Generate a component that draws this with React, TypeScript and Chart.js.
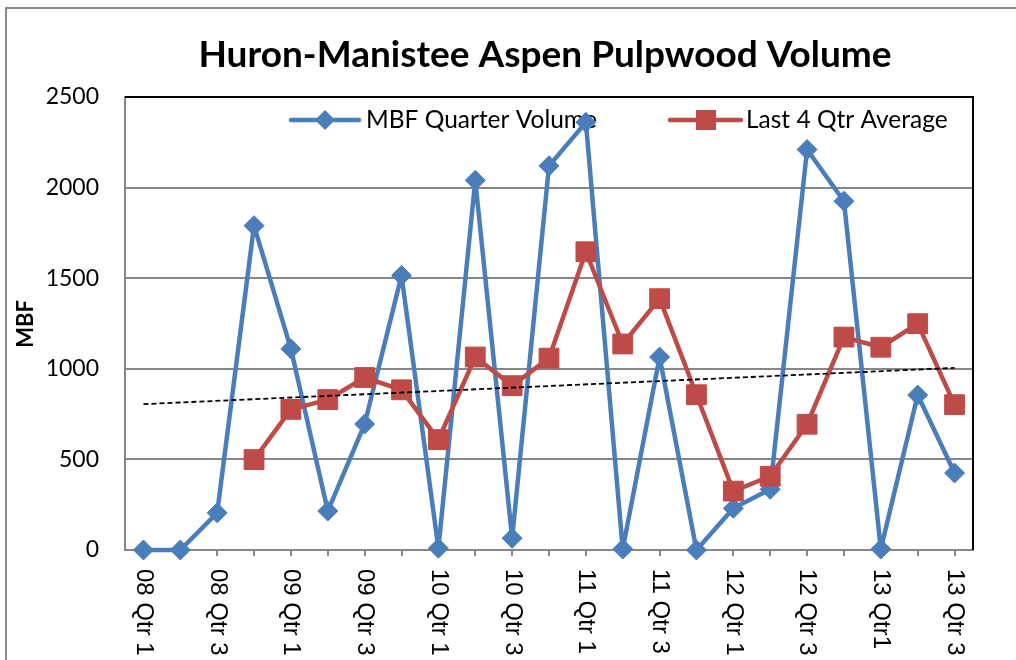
import React, { useEffect, useRef } from "react";
import { Chart, registerables } from "chart.js";

Chart.register(...registerables);

const TITLE = "Huron-Manistee Aspen Pulpwood Volume";
const Y_TITLE = "MBF";

const categories = [
  "08 Qtr 1", "08 Qtr 2", "08 Qtr 3", "08 Qtr 4",
  "09 Qtr 1", "09 Qtr 2", "09 Qtr 3", "09 Qtr 4",
  "10 Qtr 1", "10 Qtr 2", "10 Qtr 3", "10 Qtr 4",
  "11 Qtr 1", "11 Qtr 2", "11 Qtr 3", "11 Qtr 4",
  "12 Qtr 1", "12 Qtr 2", "12 Qtr 3", "12 Qtr 4",
  "13 Qtr1", "13 Qtr 2", "13 Qtr 3",
];

// labels shown on the axis (every other category)
const shownLabelIndices = [0, 2, 4, 6, 8, 10, 12, 14, 16, 18, 20, 22];

const quarterVolume = [
  0, 0, 205, 1790, 1110, 215, 695, 1515, 10, 2040, 65, 2120,
  2360, 5, 1065, 0, 230, 335, 2210, 1925, 5, 855, 425,
];

const last4QtrAverage = [
  null, null, null, 499, 776, 830, 952, 884, 609, 1065, 907, 1059,
  1646, 1137, 1387, 857, 325, 407, 694, 1175, 1119, 1249, 802,
];

// linear trend endpoints
const trendStart = 805;
const trendEnd = 1005;
const trendLine = categories.map((_, i) =>
  i === 0 ? trendStart : i === categories.length - 1 ? trendEnd : null
);

const yTicks = [0, 500, 1000, 1500, 2000, 2500];

const BLUE = "#4A7EBB";
const RED = "#BE4B48";
const GRID = "#878787";

const decorPlugin = {
  id: "decor",
  beforeDraw(chart: any) {
    const ctx = chart.ctx;
    ctx.save();
    ctx.fillStyle = "#ffffff";
    ctx.fillRect(0, 0, chart.width, chart.height);
    // outer chart border
    ctx.strokeStyle = "#8a8a8a";
    ctx.lineWidth = 2;
    ctx.strokeRect(6, 8, chart.width + 20, chart.height + 20);
    // title
    ctx.fillStyle = "#000";
    ctx.font = "bold 37px Lato";
    ctx.textAlign = "center";
    ctx.textBaseline = "alphabetic";
    ctx.fillText(TITLE, 545, 67);
    // y axis title
    ctx.save();
    ctx.translate(26, 324);
    ctx.rotate(-Math.PI / 2);
    ctx.font = "bold 22px Lato";
    ctx.textBaseline = "middle";
    ctx.fillText(Y_TITLE, 0, 0);
    ctx.restore();
    ctx.restore();
  },
  beforeDatasetsDraw(chart: any) {
    const ctx = chart.ctx;
    const a = chart.chartArea;
    ctx.save();
    // black plot-area border top & right
    ctx.strokeStyle = "#000";
    ctx.lineWidth = 2;
    ctx.beginPath();
    ctx.moveTo(a.left, a.top);
    ctx.lineTo(a.right, a.top);
    ctx.lineTo(a.right, a.bottom);
    ctx.stroke();

    // legend
    const ly = 120;
    ctx.lineWidth = 4.5;
    ctx.lineCap = "round";
    ctx.strokeStyle = BLUE;
    ctx.beginPath();
    ctx.moveTo(291, ly);
    ctx.lineTo(359, ly);
    ctx.stroke();
    ctx.fillStyle = BLUE;
    ctx.beginPath();
    ctx.moveTo(325, ly - 10);
    ctx.lineTo(335, ly);
    ctx.lineTo(325, ly + 10);
    ctx.lineTo(315, ly);
    ctx.closePath();
    ctx.fill();

    ctx.strokeStyle = RED;
    ctx.beginPath();
    ctx.moveTo(670, ly);
    ctx.lineTo(741, ly);
    ctx.stroke();
    ctx.fillStyle = RED;
    ctx.fillRect(706 - 10, ly - 10, 20, 20);

    ctx.fillStyle = "#000";
    ctx.font = "24.5px Lato";
    ctx.textAlign = "left";
    ctx.textBaseline = "middle";
    ctx.fillText("MBF Quarter Volume", 366, ly);
    ctx.fillText("Last 4 Qtr Average", 746, ly);
    ctx.restore();
  },
  afterDraw(chart: any) {
    const ctx = chart.ctx;
    const xs = chart.scales.x;
    ctx.save();
    ctx.fillStyle = "#000";
    ctx.font = "24px 'Liberation Sans'";
    ctx.textAlign = "left";
    ctx.textBaseline = "middle";
    shownLabelIndices.forEach((i) => {
      const x = xs.getPixelForValue(i);
      ctx.save();
      ctx.translate(x, 569);
      ctx.rotate(Math.PI / 2);
      ctx.fillText(categories[i], 0, 0);
      ctx.restore();
    });
    ctx.restore();
  },
};

export default function App() {
  const ref = useRef<HTMLCanvasElement | null>(null);
  useEffect(() => {
    if (!ref.current) return;
    const chart = new Chart(ref.current, {
      type: "line",
      data: {
        labels: categories,
        datasets: [
          {
            label: "MBF Quarter Volume",
            data: quarterVolume,
            borderColor: BLUE,
            backgroundColor: BLUE,
            borderWidth: 4.5,
            borderJoinStyle: "round",
            borderCapStyle: "round",
            pointStyle: "rectRot",
            pointRadius: 10,
            pointBorderWidth: 1,
            pointBorderColor: BLUE,
            pointBackgroundColor: BLUE,
            tension: 0,
            clip: false,
            order: 3,
          },
          {
            label: "Last 4 Qtr Average",
            data: last4QtrAverage,
            borderColor: RED,
            backgroundColor: RED,
            borderWidth: 4.5,
            borderJoinStyle: "round",
            borderCapStyle: "round",
            pointStyle: "rect",
            pointRadius: 14,
            pointBorderWidth: 1,
            pointBorderColor: RED,
            pointBackgroundColor: RED,
            tension: 0,
            clip: false,
            order: 2,
          },
          {
            label: "Trend",
            data: trendLine,
            borderColor: "#000",
            borderWidth: 1.8,
            borderDash: [5, 3],
            pointRadius: 0,
            spanGaps: true,
            tension: 0,
            order: 1,
          },
        ],
      },
      options: {
        responsive: false,
        animation: false,
        layout: { padding: { left: 0, top: 97, right: 43, bottom: 0 } },
        plugins: {
          legend: { display: false },
          title: { display: false },
          tooltip: { enabled: false },
        },
        scales: {
          x: {
            type: "category",
            offset: true,
            grid: {
              display: true,
              drawOnChartArea: false,
              drawTicks: true,
              tickLength: 6,
              offset: false,
              color: GRID,
              lineWidth: 2,
            },
            border: { display: true, color: GRID, width: 2 },
            ticks: { display: false, autoSkip: false },
            afterFit(scale: any) {
              scale.height = 110;
            },
          },
          y: {
            min: 0,
            max: 2500,
            afterBuildTicks(scale: any) {
              scale.ticks = yTicks.map((v) => ({ value: v }));
            },
            grid: { color: GRID, lineWidth: 2, drawTicks: false },
            border: { display: true, color: GRID, width: 2 },
            ticks: {
              padding: 26,
              color: "#000",
              font: { family: "Lato", size: 23 },
              callback: (v: any) => String(v),
            },
            afterFit(scale: any) {
              scale.width = 125;
            },
          },
        },
      },
      plugins: [decorPlugin],
    });
    return () => chart.destroy();
  }, []);
  return (
    <canvas
      ref={ref}
      width={1016}
      height={660}
      style={{ position: "fixed", left: 0, top: 0, display: "block" }}
    />
  );
}
